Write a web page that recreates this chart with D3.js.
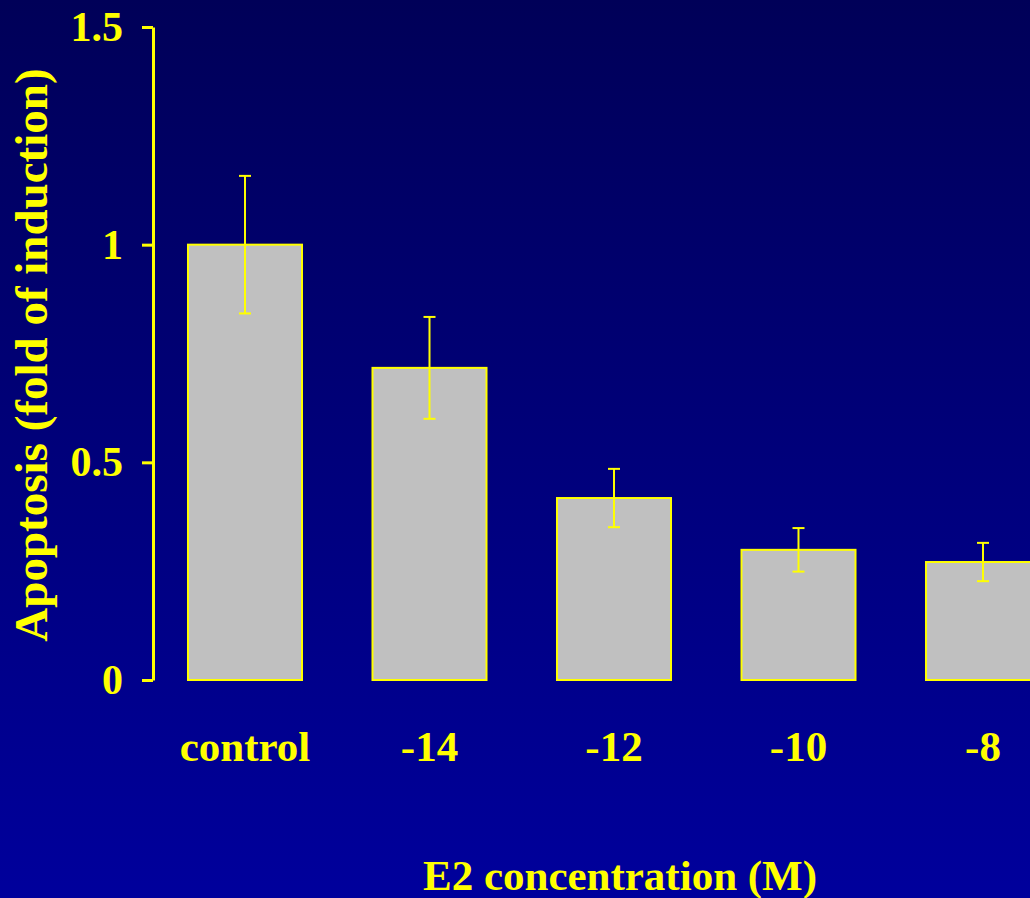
<!DOCTYPE html>
<html>
<head>
<meta charset="utf-8">
<script src="https://cdn.jsdelivr.net/npm/d3@7"></script>
<style>
  body { margin: 0; padding: 0; overflow: hidden; }
  svg { display: block; }
  text { font-family: "Liberation Serif", "Times New Roman", serif; font-weight: bold; fill: #ffff00; }
</style>
</head>
<body>
<div id="chart"></div>
<script>
// data
const categories = ["control", "-14", "-12", "-10", "-8"];
const values = [1.0, 0.717, 0.418, 0.299, 0.271];
const errors = [0.158, 0.117, 0.067, 0.05, 0.044];
const yTicks = [0, 0.5, 1, 1.5];
const yTickLabels = ["0", "0.5", "1", "1.5"];

const FRAME_WIDTH = 1030;
const FRAME_HEIGHT = 898;
const YELLOW = "#ffff00";

const FRAME = d3.select("#chart")
    .append("svg")
    .attr("width", FRAME_WIDTH)
    .attr("height", FRAME_HEIGHT);

// background gradient, dark navy to blue
const grad = FRAME.append("defs").append("linearGradient")
    .attr("id", "bg")
    .attr("x1", 0).attr("y1", 0).attr("x2", 0).attr("y2", 1);
grad.append("stop").attr("offset", "0%").attr("stop-color", "#000058");
grad.append("stop").attr("offset", "100%").attr("stop-color", "#00009c");

FRAME.append("rect")
    .attr("width", FRAME_WIDTH)
    .attr("height", FRAME_HEIGHT)
    .attr("fill", "url(#bg)");

const data = categories.map((c, i) => ({ cat: c, value: values[i], err: errors[i] }));

const xScale = d3.scaleBand()
    .domain(categories)
    .range([152.75, 1075.25])
    .paddingInner(0.382)
    .paddingOuter(0.191);

const yScale = d3.scaleLinear()
    .domain([0, 1.5])
    .range([680, 27]);

// bars
FRAME.selectAll(".bar")
    .data(data)
    .enter()
    .append("rect")
    .attr("class", "bar")
    .attr("x", d => xScale(d.cat))
    .attr("y", d => yScale(d.value))
    .attr("width", xScale.bandwidth())
    .attr("height", d => yScale(0) - yScale(d.value))
    .attr("fill", "#c0c0c0")
    .attr("stroke", YELLOW)
    .attr("stroke-width", 2);

// error bars
const errG = FRAME.selectAll(".err")
    .data(data)
    .enter()
    .append("g")
    .attr("class", "err")
    .attr("stroke", YELLOW)
    .attr("stroke-width", 2);

const cx = d => xScale(d.cat) + xScale.bandwidth() / 2;
errG.append("line")
    .attr("x1", cx).attr("x2", cx)
    .attr("y1", d => yScale(d.value + d.err))
    .attr("y2", d => yScale(d.value - d.err));
errG.append("line")
    .attr("x1", d => cx(d) - 6).attr("x2", d => cx(d) + 6)
    .attr("y1", d => yScale(d.value + d.err))
    .attr("y2", d => yScale(d.value + d.err));
errG.append("line")
    .attr("x1", d => cx(d) - 6).attr("x2", d => cx(d) + 6)
    .attr("y1", d => yScale(d.value - d.err))
    .attr("y2", d => yScale(d.value - d.err));

// y axis
const yAxis = FRAME.append("g")
    .attr("transform", "translate(153,0)")
    .call(d3.axisLeft(yScale)
        .tickValues(yTicks)
        .tickFormat((d, i) => yTickLabels[i])
        .tickSizeInner(11)
        .tickSizeOuter(0)
        .tickPadding(19));
yAxis.select(".domain").attr("stroke", YELLOW).attr("stroke-width", 3);
yAxis.selectAll(".tick line").attr("stroke", YELLOW).attr("stroke-width", 3);
yAxis.selectAll(".tick text")
    .attr("fill", YELLOW)
    .style("font-size", "42px")
    .style("font-family", "'Liberation Serif', 'Times New Roman', serif")
    .style("font-weight", "bold");

// category labels
FRAME.selectAll(".catlabel")
    .data(data)
    .enter()
    .append("text")
    .attr("class", "catlabel")
    .attr("x", cx)
    .attr("y", 761)
    .attr("text-anchor", "middle")
    .style("font-size", "43px")
    .text(d => d.cat);

// axis titles
FRAME.append("text")
    .attr("x", 620)
    .attr("y", 890)
    .attr("text-anchor", "middle")
    .style("font-size", "43px")
    .text("E2 concentration (M)");

FRAME.append("text")
    .attr("transform", "translate(47,355) rotate(-90)")
    .attr("text-anchor", "middle")
    .style("font-size", "47px")
    .text("Apoptosis (fold of induction)");
</script>
</body>
</html>
